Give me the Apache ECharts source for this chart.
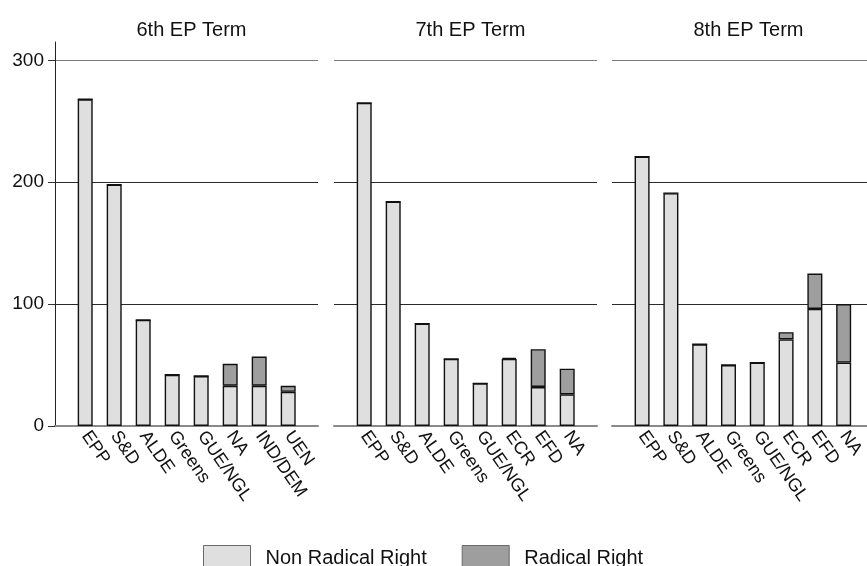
<!DOCTYPE html>
<html>
<head>
<meta charset="utf-8">
<script src="https://cdn.jsdelivr.net/npm/echarts@6/dist/echarts.min.js"></script>
<style>
html,body{margin:0;padding:0;background:#fff;}
#chart{width:867px;height:566px;}
</style>
</head>
<body>
<div id="chart"></div>
<script>
// ---- data ----
const termTitles = ['6th EP Term', '7th EP Term', '8th EP Term'];
const groups6 = ['EPP', 'S&D', 'ALDE', 'Greens', 'GUE/NGL', 'NA', 'IND/DEM', 'UEN'];
const groups7 = ['EPP', 'S&D', 'ALDE', 'Greens', 'GUE/NGL', 'ECR', 'EFD', 'NA'];
const groups8 = ['EPP', 'S&D', 'ALDE', 'Greens', 'GUE/NGL', 'ECR', 'EFD', 'NA'];
const nonRR6 = [268, 198, 87, 42, 41, 33, 33, 28];
const rr6    = [0, 0, 0, 0, 0, 18, 24, 5];
const nonRR7 = [265, 184, 84, 55, 35, 55, 32, 26];
const rr7    = [0, 0, 0, 0, 0, 1, 31, 21];
const nonRR8 = [221, 191, 67, 50, 52, 71, 96, 52];
const rr8    = [0, 0, 0, 0, 0, 6, 29, 48];
const yTicks = [0, 100, 200, 300];
const seriesNames = ['Non Radical Right', 'Radical Right'];

// ---- layout ----
const panelLefts = [55, 334, 612];
const panelWidth = 263;
const innerOffset = 15.7;
const innerWidth = 232;
const gTop = 42, gBottom = 140, yMax = 315;
const font = "'Liberation Sans', Arial, sans-serif";
const colNon = '#dfdfdf', colRR = '#9e9e9e';

const groups = [groups6, groups7, groups8];
const nonRR = [nonRR6, nonRR7, nonRR8];
const rr = [rr6, rr7, rr8];

const grid = [], xAxis = [], yAxis = [], series = [], title = [];
for (let p = 0; p < 3; p++) {
  grid.push({left: panelLefts[p], width: panelWidth, top: gTop, bottom: gBottom, containLabel: false});
  title.push({
    text: termTitles[p], left: panelLefts[p] + panelWidth / 2, top: 15, textAlign: 'center',
    textStyle: {fontFamily: font, fontSize: 20, fontWeight: 'normal', color: '#111'}
  });
}
for (let p = 0; p < 3; p++) {
  grid.push({left: panelLefts[p] + innerOffset, width: innerWidth, top: gTop, bottom: gBottom, containLabel: false});
}
// outer axes (panel frames, gridlines, y labels)
for (let p = 0; p < 3; p++) {
  xAxis.push({
    gridIndex: p, type: 'value', min: 0, max: 1,
    axisLine: {show: true, onZero: false, lineStyle: {color: '#8a8a8a', width: 2}},
    axisTick: {show: false}, axisLabel: {show: false}, splitLine: {show: false}
  });
  yAxis.push({
    gridIndex: p, type: 'value', min: 0, max: yMax,
    axisLine: {show: p === 0, lineStyle: {color: '#222', width: 1}},
    axisTick: {show: p === 0, length: 7, customValues: yTicks, lineStyle: {color: '#333'}},
    axisLabel: {show: p === 0, customValues: yTicks, fontFamily: font, fontSize: 19, color: '#111', margin: 11},
    splitLine: {show: true, lineStyle: {color: ['#888', '#2a2a2a', '#2a2a2a', '#7a7a7a'], width: 1}}
  });
}
// inner axes (bars)
for (let p = 0; p < 3; p++) {
  xAxis.push({
    gridIndex: 3 + p, type: 'category', data: groups[p],
    axisLine: {show: false}, axisTick: {show: false},
    axisLabel: {interval: 0, rotate: -55, fontFamily: font, fontSize: 18, color: '#111', margin: 7},
    splitLine: {show: false}
  });
  yAxis.push({gridIndex: 3 + p, type: 'value', min: 0, max: yMax, show: false, splitLine: {show: false}});
  series.push({
    name: seriesNames[0], type: 'bar', stack: 'term' + p, xAxisIndex: 3 + p, yAxisIndex: 3 + p,
    data: nonRR[p], barWidth: 15,
    itemStyle: {color: colNon, borderColor: '#111', borderWidth: 1.4}
  });
  series.push({
    name: seriesNames[1], type: 'bar', stack: 'term' + p, xAxisIndex: 3 + p, yAxisIndex: 3 + p,
    data: rr[p], barWidth: 15,
    itemStyle: {color: colRR, borderColor: '#111', borderWidth: 1.4}
  });
}

const chart = echarts.init(document.getElementById('chart'), null, {renderer: 'canvas'});
chart.setOption({
  animation: false,
  backgroundColor: '#fff',
  title: title,
  grid: grid,
  xAxis: xAxis,
  yAxis: yAxis,
  legend: {
    data: seriesNames, left: 203, top: 545, padding: 0, itemWidth: 47, itemHeight: 26, itemGap: 35,
    icon: 'rect',
    itemStyle: {borderColor: '#6a6a6a', borderWidth: 1},
    textStyle: {fontFamily: font, fontSize: 20, color: '#111', padding: [0, 0, 0, 10]}
  },
  series: series
});
</script>
</body>
</html>
